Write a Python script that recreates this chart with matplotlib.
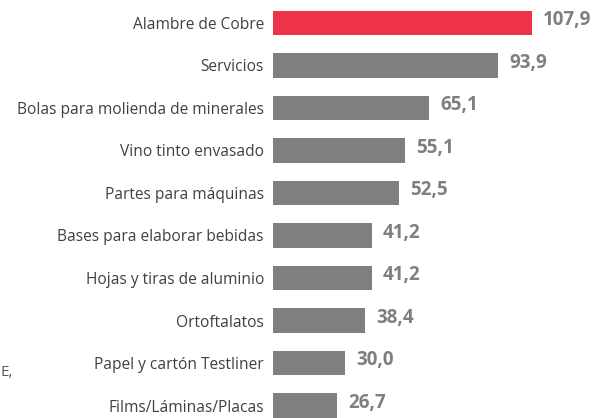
import matplotlib
matplotlib.use("Agg")
import matplotlib.pyplot as plt

# data
categories = ["Alambre de Cobre", "Servicios", "Bolas para molienda de minerales",
              "Vino tinto envasado", "Partes para máquinas", "Bases para elaborar bebidas",
              "Hojas y tiras de aluminio", "Ortoftalatos", "Papel y cartón Testliner",
              "Films/Láminas/Placas"]
values = [107.9, 93.9, 65.1, 55.1, 52.5, 41.2, 41.2, 38.4, 30.0, 26.7]
value_labels = ["107,9", "93,9", "65,1", "55,1", "52,5", "41,2", "41,2", "38,4", "30,0", "26,7"]

plt.rcParams['font.family'] = ['Open Sans', 'DejaVu Sans']

fig = plt.figure(figsize=(5.94, 4.18), dpi=100)
ax = fig.add_axes([273 / 594, 0, 321 / 594, 1])

colors = ['#EE3349'] + ['#7F7F7F'] * (len(values) - 1)
pos = list(range(len(values)))
ax.barh(pos, values, height=0.57, color=colors)

for y, v, lab in zip(pos, values, value_labels):
    ax.annotate(lab, (v, y), xytext=(8, 2), textcoords='offset points',
                ha='left', va='center', fontsize=13.5, fontweight='bold', color='#7F7F7F')

ax.set_xlim(0, 321 / 2.4)
ax.set_ylim(9.294, -0.541)
ax.set_yticks(pos)
ax.set_yticklabels(categories, fontsize=11.2, color='#404040')
ax.tick_params(axis='y', length=0, pad=6.5)
ax.set_xticks([])
for s in ax.spines.values():
    s.set_visible(False)

fig.text(0, 1 - 372 / 418, "E,", fontsize=11, color='#595959', ha='left', va='center')

fig.savefig("out.png", dpi=100)
